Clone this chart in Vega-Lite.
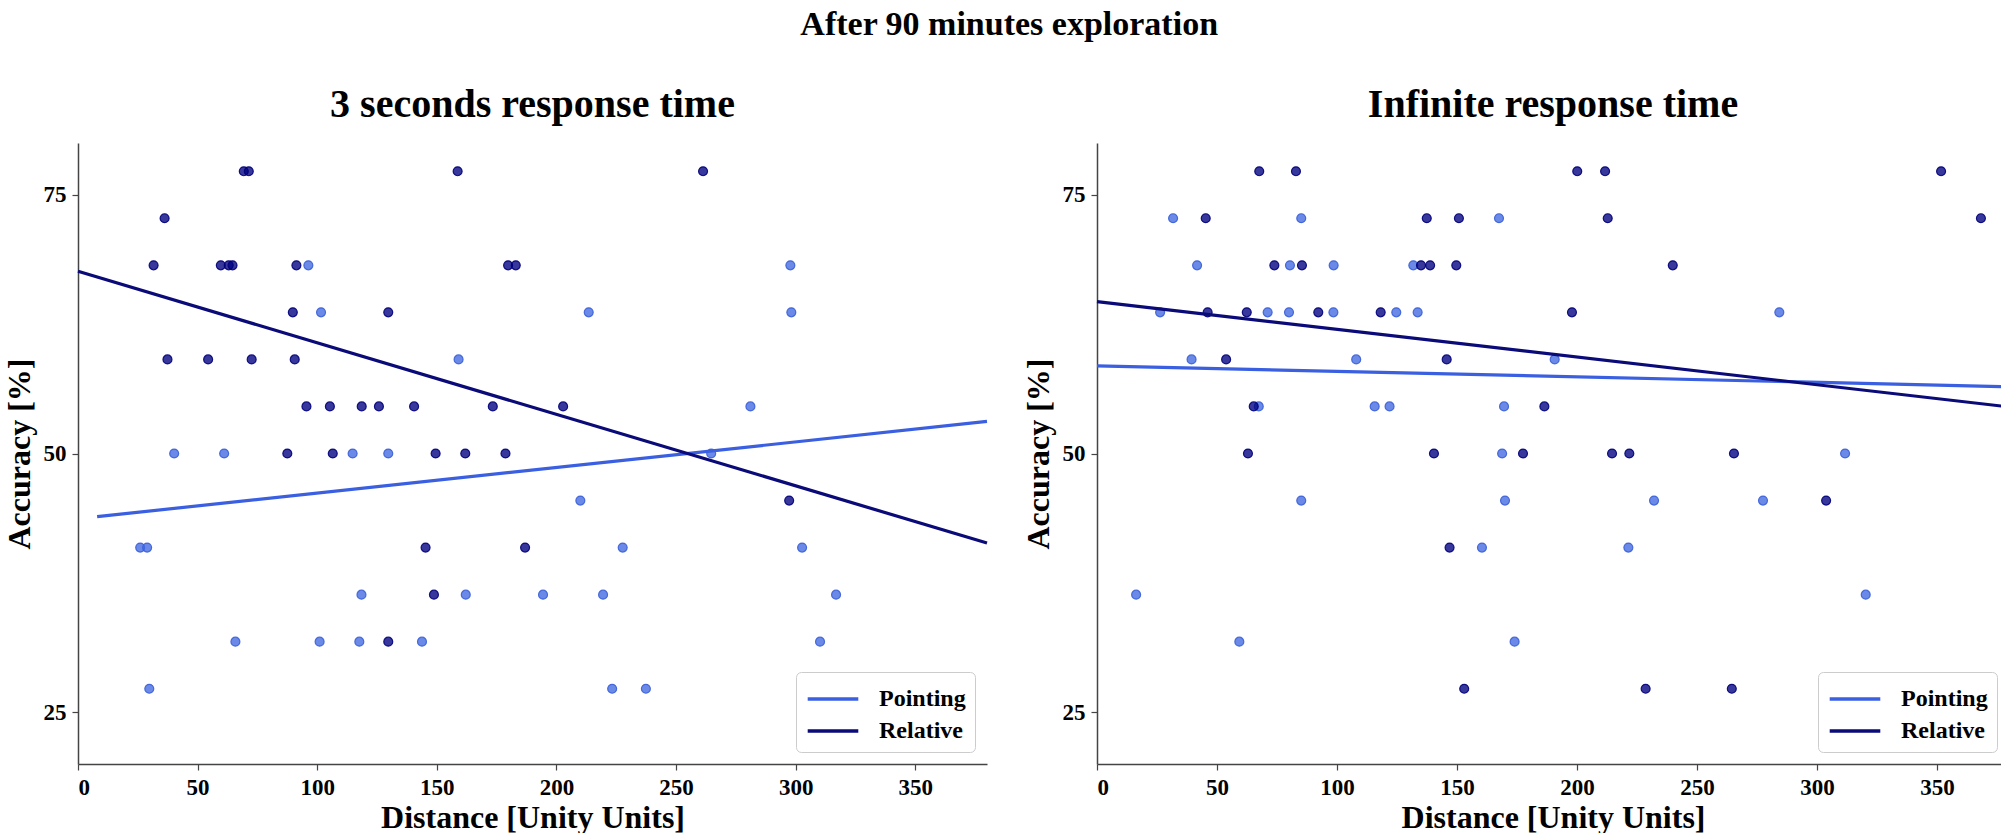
{
  "$schema": "https://vega.github.io/schema/vega-lite/v6.json",
  "background": "white",
  "padding": {"left": 3, "top": 8, "right": 0, "bottom": 0},
  "title": {"text": "After 90 minutes exploration", "font": "Liberation Serif", "fontSize": 34, "fontWeight": "bold", "color": "black", "anchor": "middle", "offset": 43},
  "config": {
    "view": {"stroke": null},
    "font": "Liberation Serif",
    "title": {"font": "Liberation Serif", "fontSize": 40, "fontWeight": "bold", "color": "black", "offset": 18},
    "axis": {
      "grid": false,
      "labelFont": "Liberation Serif", "labelFontSize": 23, "labelFontWeight": "bold", "labelColor": "black",
      "titleFont": "Liberation Serif", "titleFontSize": 32, "titleFontWeight": "bold", "titleColor": "black",
      "domainColor": "#444444", "domainWidth": 1.5, "tickColor": "#444444", "tickWidth": 1.2, "tickSize": 6, "labelPadding": 6
    },
    "axisX": {"titlePadding": 3},
    "axisY": {"titlePadding": 7}
  },
  "resolve": {"scale": {"color": "independent", "fill": "independent", "stroke": "independent"}, "legend": {"color": "independent"}},
  "datasets": {
    "left_points": [
      {"x": 96.3, "y": 68.18, "group": "Pointing"}, {"x": 297.8, "y": 68.18, "group": "Pointing"},
      {"x": 101.6, "y": 63.64, "group": "Pointing"}, {"x": 213.5, "y": 63.64, "group": "Pointing"}, {"x": 298.2, "y": 63.64, "group": "Pointing"},
      {"x": 159.1, "y": 59.09, "group": "Pointing"},
      {"x": 281.1, "y": 54.55, "group": "Pointing"},
      {"x": 40.2, "y": 50, "group": "Pointing"}, {"x": 61.1, "y": 50, "group": "Pointing"}, {"x": 114.8, "y": 50, "group": "Pointing"}, {"x": 129.7, "y": 50, "group": "Pointing"}, {"x": 264.7, "y": 50, "group": "Pointing"},
      {"x": 210.0, "y": 45.45, "group": "Pointing"},
      {"x": 26.0, "y": 40.91, "group": "Pointing"}, {"x": 28.9, "y": 40.91, "group": "Pointing"}, {"x": 227.7, "y": 40.91, "group": "Pointing"}, {"x": 302.7, "y": 40.91, "group": "Pointing"},
      {"x": 118.5, "y": 36.36, "group": "Pointing"}, {"x": 162.1, "y": 36.36, "group": "Pointing"}, {"x": 194.4, "y": 36.36, "group": "Pointing"}, {"x": 219.5, "y": 36.36, "group": "Pointing"}, {"x": 316.9, "y": 36.36, "group": "Pointing"},
      {"x": 65.8, "y": 31.82, "group": "Pointing"}, {"x": 101.0, "y": 31.82, "group": "Pointing"}, {"x": 117.6, "y": 31.82, "group": "Pointing"}, {"x": 143.8, "y": 31.82, "group": "Pointing"}, {"x": 310.2, "y": 31.82, "group": "Pointing"},
      {"x": 29.8, "y": 27.27, "group": "Pointing"}, {"x": 223.3, "y": 27.27, "group": "Pointing"}, {"x": 237.4, "y": 27.27, "group": "Pointing"},
      {"x": 69.3, "y": 77.27, "group": "Relative"}, {"x": 71.4, "y": 77.27, "group": "Relative"}, {"x": 158.7, "y": 77.27, "group": "Relative"}, {"x": 261.3, "y": 77.27, "group": "Relative"},
      {"x": 36.2, "y": 72.73, "group": "Relative"},
      {"x": 31.6, "y": 68.18, "group": "Relative"}, {"x": 59.7, "y": 68.18, "group": "Relative"}, {"x": 63.0, "y": 68.18, "group": "Relative"}, {"x": 64.6, "y": 68.18, "group": "Relative"}, {"x": 91.3, "y": 68.18, "group": "Relative"}, {"x": 179.8, "y": 68.18, "group": "Relative"}, {"x": 183.0, "y": 68.18, "group": "Relative"},
      {"x": 89.8, "y": 63.64, "group": "Relative"}, {"x": 129.7, "y": 63.64, "group": "Relative"},
      {"x": 37.4, "y": 59.09, "group": "Relative"}, {"x": 54.4, "y": 59.09, "group": "Relative"}, {"x": 72.6, "y": 59.09, "group": "Relative"}, {"x": 90.6, "y": 59.09, "group": "Relative"},
      {"x": 95.5, "y": 54.55, "group": "Relative"}, {"x": 105.3, "y": 54.55, "group": "Relative"}, {"x": 118.6, "y": 54.55, "group": "Relative"}, {"x": 125.8, "y": 54.55, "group": "Relative"}, {"x": 140.5, "y": 54.55, "group": "Relative"}, {"x": 173.4, "y": 54.55, "group": "Relative"}, {"x": 202.8, "y": 54.55, "group": "Relative"},
      {"x": 87.5, "y": 50, "group": "Relative"}, {"x": 106.5, "y": 50, "group": "Relative"}, {"x": 149.5, "y": 50, "group": "Relative"}, {"x": 161.9, "y": 50, "group": "Relative"}, {"x": 178.7, "y": 50, "group": "Relative"},
      {"x": 297.3, "y": 45.45, "group": "Relative"},
      {"x": 145.3, "y": 40.91, "group": "Relative"}, {"x": 186.9, "y": 40.91, "group": "Relative"},
      {"x": 148.8, "y": 36.36, "group": "Relative"},
      {"x": 129.7, "y": 31.82, "group": "Relative"}
    ],
    "right_points": [
      {"x": 31.7, "y": 72.73, "group": "Pointing"}, {"x": 85.1, "y": 72.73, "group": "Pointing"}, {"x": 167.5, "y": 72.73, "group": "Pointing"},
      {"x": 41.7, "y": 68.18, "group": "Pointing"}, {"x": 80.4, "y": 68.18, "group": "Pointing"}, {"x": 98.6, "y": 68.18, "group": "Pointing"}, {"x": 131.8, "y": 68.18, "group": "Pointing"},
      {"x": 26.3, "y": 63.64, "group": "Pointing"}, {"x": 71.1, "y": 63.64, "group": "Pointing"}, {"x": 80.0, "y": 63.64, "group": "Pointing"}, {"x": 98.5, "y": 63.64, "group": "Pointing"}, {"x": 124.7, "y": 63.64, "group": "Pointing"}, {"x": 133.6, "y": 63.64, "group": "Pointing"}, {"x": 284.3, "y": 63.64, "group": "Pointing"},
      {"x": 39.4, "y": 59.09, "group": "Pointing"}, {"x": 108.0, "y": 59.09, "group": "Pointing"}, {"x": 190.7, "y": 59.09, "group": "Pointing"},
      {"x": 67.4, "y": 54.55, "group": "Pointing"}, {"x": 115.7, "y": 54.55, "group": "Pointing"}, {"x": 121.9, "y": 54.55, "group": "Pointing"}, {"x": 169.6, "y": 54.55, "group": "Pointing"},
      {"x": 168.8, "y": 50, "group": "Pointing"}, {"x": 311.7, "y": 50, "group": "Pointing"},
      {"x": 85.1, "y": 45.45, "group": "Pointing"}, {"x": 170.0, "y": 45.45, "group": "Pointing"}, {"x": 232.1, "y": 45.45, "group": "Pointing"}, {"x": 277.5, "y": 45.45, "group": "Pointing"},
      {"x": 160.4, "y": 40.91, "group": "Pointing"}, {"x": 221.4, "y": 40.91, "group": "Pointing"},
      {"x": 16.3, "y": 36.36, "group": "Pointing"}, {"x": 320.3, "y": 36.36, "group": "Pointing"},
      {"x": 59.3, "y": 31.82, "group": "Pointing"}, {"x": 174.0, "y": 31.82, "group": "Pointing"},
      {"x": 67.6, "y": 77.27, "group": "Relative"}, {"x": 82.9, "y": 77.27, "group": "Relative"}, {"x": 200.1, "y": 77.27, "group": "Relative"}, {"x": 211.7, "y": 77.27, "group": "Relative"}, {"x": 351.7, "y": 77.27, "group": "Relative"},
      {"x": 45.3, "y": 72.73, "group": "Relative"}, {"x": 137.4, "y": 72.73, "group": "Relative"}, {"x": 150.8, "y": 72.73, "group": "Relative"}, {"x": 212.8, "y": 72.73, "group": "Relative"}, {"x": 368.3, "y": 72.73, "group": "Relative"},
      {"x": 73.9, "y": 68.18, "group": "Relative"}, {"x": 85.4, "y": 68.18, "group": "Relative"}, {"x": 135.0, "y": 68.18, "group": "Relative"}, {"x": 138.8, "y": 68.18, "group": "Relative"}, {"x": 149.7, "y": 68.18, "group": "Relative"}, {"x": 239.9, "y": 68.18, "group": "Relative"},
      {"x": 46.1, "y": 63.64, "group": "Relative"}, {"x": 62.4, "y": 63.64, "group": "Relative"}, {"x": 92.2, "y": 63.64, "group": "Relative"}, {"x": 118.2, "y": 63.64, "group": "Relative"}, {"x": 197.9, "y": 63.64, "group": "Relative"},
      {"x": 53.8, "y": 59.09, "group": "Relative"}, {"x": 145.7, "y": 59.09, "group": "Relative"},
      {"x": 65.3, "y": 54.55, "group": "Relative"}, {"x": 186.4, "y": 54.55, "group": "Relative"},
      {"x": 62.9, "y": 50, "group": "Relative"}, {"x": 140.4, "y": 50, "group": "Relative"}, {"x": 177.5, "y": 50, "group": "Relative"}, {"x": 214.6, "y": 50, "group": "Relative"}, {"x": 221.8, "y": 50, "group": "Relative"}, {"x": 265.4, "y": 50, "group": "Relative"},
      {"x": 303.8, "y": 45.45, "group": "Relative"},
      {"x": 146.9, "y": 40.91, "group": "Relative"},
      {"x": 153.0, "y": 27.27, "group": "Relative"}, {"x": 228.6, "y": 27.27, "group": "Relative"}, {"x": 264.5, "y": 27.27, "group": "Relative"}
    ],
    "left_lines": [
      {"x": 8, "y": 43.9, "group": "Pointing"}, {"x": 380, "y": 53.1, "group": "Pointing"},
      {"x": 0, "y": 67.6, "group": "Relative"}, {"x": 380, "y": 41.35, "group": "Relative"}
    ],
    "right_lines": [
      {"x": 0, "y": 58.47, "group": "Pointing"}, {"x": 380, "y": 56.45, "group": "Pointing"},
      {"x": 0, "y": 64.67, "group": "Relative"}, {"x": 380, "y": 54.5, "group": "Relative"}
    ]
  },
  "spacing": 28,
  "hconcat": [
    {
      "width": 909, "height": 621,
      "title": "3 seconds response time",
      "layer": [
        {
          "data": {"name": "left_points"},
          "mark": {"type": "circle", "size": 80, "fillOpacity": 0.78, "strokeOpacity": 0.9, "strokeWidth": 1.2},
          "encoding": {
            "x": {"field": "x", "type": "quantitative", "scale": {"domain": [0, 380], "nice": false}, "axis": {"title": "Distance [Unity Units]", "values": [0, 50, 100, 150, 200, 250, 300, 350]}},
            "y": {"field": "y", "type": "quantitative", "scale": {"domain": [20, 80], "nice": false}, "axis": {"title": "Accuracy [%]", "values": [25, 50, 75]}},
            "fill": {"field": "group", "type": "nominal", "scale": {"domain": ["Relative", "Pointing"], "range": ["#000080", "#4169E1"]}, "legend": null},
            "stroke": {"field": "group", "type": "nominal", "scale": {"domain": ["Relative", "Pointing"], "range": ["#00007a", "#3a5fd8"]}, "legend": null}
          }
        },
        {
          "data": {"name": "left_lines"},
          "mark": {"type": "line", "strokeWidth": 3.2},
          "encoding": {
            "x": {"field": "x", "type": "quantitative"},
            "y": {"field": "y", "type": "quantitative"},
            "color": {
              "field": "group", "type": "nominal",
              "scale": {"domain": ["Pointing", "Relative"], "range": ["#3a5fe0", "#0a0a78"]},
              "legend": {
                "orient": "bottom-right", "offset": 12, "title": null,
                "strokeColor": "#cccccc", "fillColor": "white", "cornerRadius": 5, "padding": 9,
                "labelFont": "Liberation Serif", "labelFontSize": 24, "labelFontWeight": "bold", "labelColor": "black",
                "symbolType": "M-1.6,0H1.6", "symbolSize": 1000, "symbolStrokeWidth": 3.5, "symbolOffset": 10, "labelOffset": 28, "rowPadding": 2
              }
            }
          }
        }
      ]
    },
    {
      "width": 912, "height": 621,
      "title": "Infinite response time",
      "layer": [
        {
          "data": {"name": "right_points"},
          "mark": {"type": "circle", "size": 80, "fillOpacity": 0.78, "strokeOpacity": 0.9, "strokeWidth": 1.2},
          "encoding": {
            "x": {"field": "x", "type": "quantitative", "scale": {"domain": [0, 380], "nice": false}, "axis": {"title": "Distance [Unity Units]", "values": [0, 50, 100, 150, 200, 250, 300, 350]}},
            "y": {"field": "y", "type": "quantitative", "scale": {"domain": [20, 80], "nice": false}, "axis": {"title": "Accuracy [%]", "values": [25, 50, 75]}},
            "fill": {"field": "group", "type": "nominal", "scale": {"domain": ["Relative", "Pointing"], "range": ["#000080", "#4169E1"]}, "legend": null},
            "stroke": {"field": "group", "type": "nominal", "scale": {"domain": ["Relative", "Pointing"], "range": ["#00007a", "#3a5fd8"]}, "legend": null}
          }
        },
        {
          "data": {"name": "right_lines"},
          "mark": {"type": "line", "strokeWidth": 3.2},
          "encoding": {
            "x": {"field": "x", "type": "quantitative"},
            "y": {"field": "y", "type": "quantitative"},
            "color": {
              "field": "group", "type": "nominal",
              "scale": {"domain": ["Pointing", "Relative"], "range": ["#3a5fe0", "#0a0a78"]},
              "legend": {
                "orient": "bottom-right", "offset": 12, "title": null,
                "strokeColor": "#cccccc", "fillColor": "white", "cornerRadius": 5, "padding": 9,
                "labelFont": "Liberation Serif", "labelFontSize": 24, "labelFontWeight": "bold", "labelColor": "black",
                "symbolType": "M-1.6,0H1.6", "symbolSize": 1000, "symbolStrokeWidth": 3.5, "symbolOffset": 10, "labelOffset": 28, "rowPadding": 2
              }
            }
          }
        }
      ]
    }
  ]
}
